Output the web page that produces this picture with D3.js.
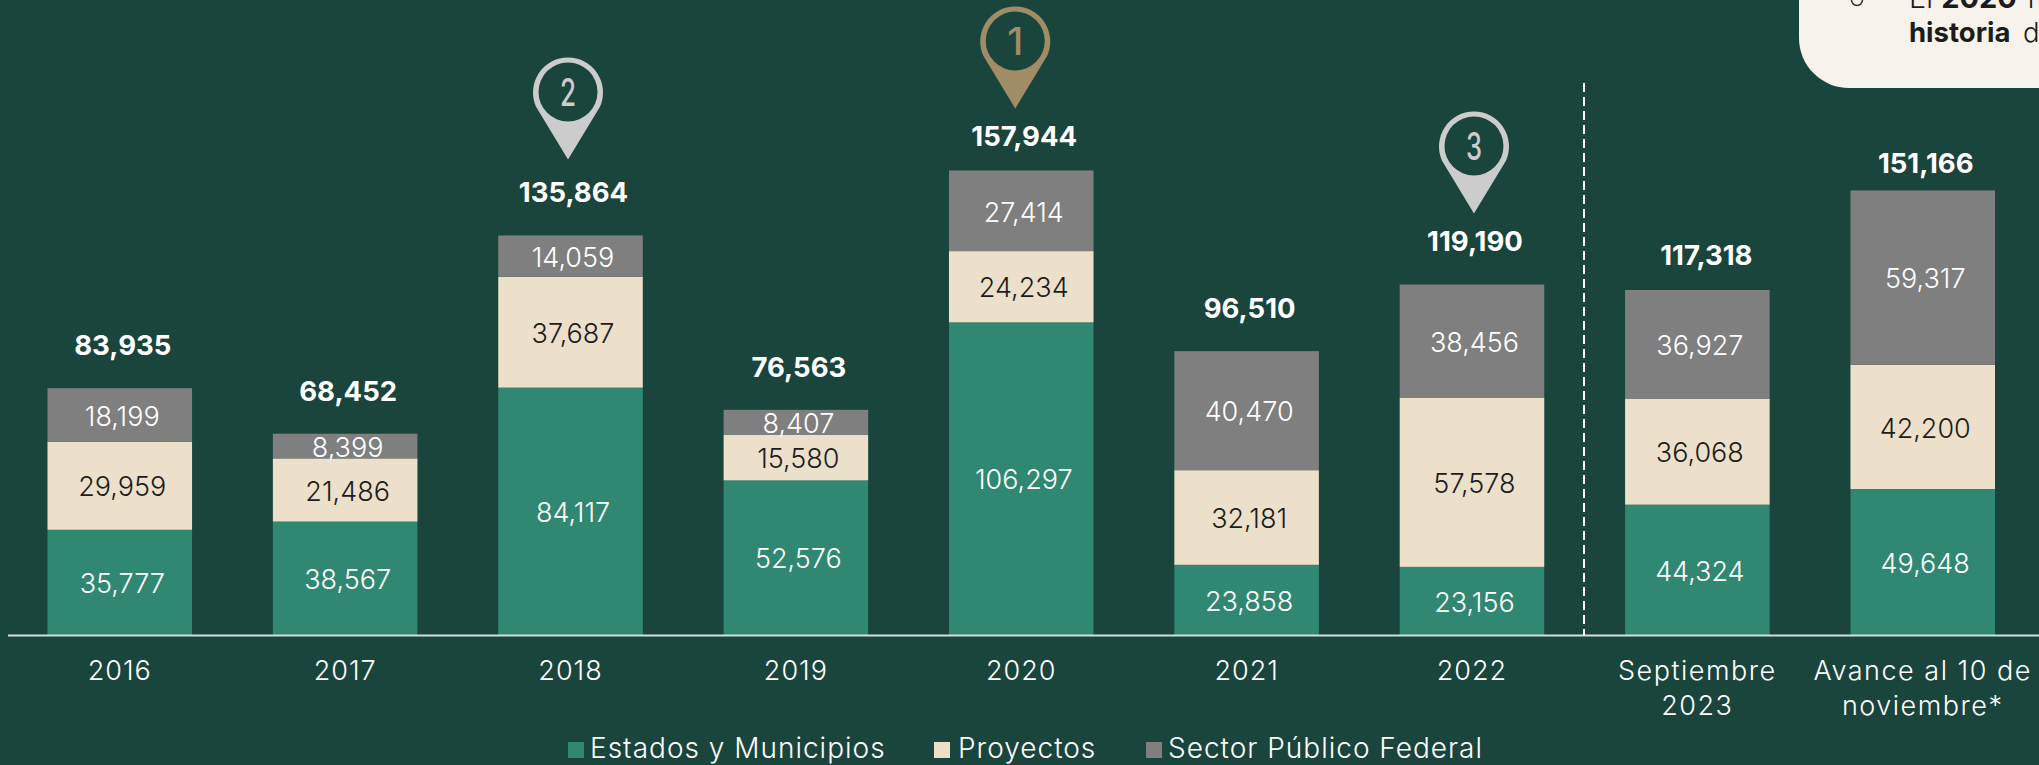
<!DOCTYPE html>
<html lang="es"><head><meta charset="utf-8">
<script src="https://cdn.jsdelivr.net/npm/d3@7"></script>
<style>
html,body{margin:0;padding:0;background:#1a453c;overflow:hidden}
svg{display:block}
text{font-family:Inter,"Open Sans",sans-serif}
</style></head><body><svg id="c" width="2039" height="765"></svg>
<script>
const categories=["2016","2017","2018","2019","2020","2021","2022","Septiembre 2023","Avance al 10 de noviembre*"];
const estados=[35777,38567,84117,52576,106297,23858,23156,44324,49648];
const proyectos=[29959,21486,37687,15580,24234,32181,57578,36068,42200];
const sector=[18199,8399,14059,8407,27414,40470,38456,36927,59317];
const totals=[83935,68452,135864,76563,157944,96510,119190,117318,151166];
const seriesNames=["Estados y Municipios","Proyectos","Sector Público Federal"];
const pinRanks=["","","2","","1","","3","",""];

const C={bg:"#1a453c",green:"#318872",beige:"#ece0ca",gray:"#7f7f7f",card:"#f7f3ec",gold:"#a08c66",silver:"#cccccc"};
const svg=d3.select("#c");
const x=d3.scaleBand().domain(categories).range([47.5,1995]).paddingInner(0.3586).paddingOuter(0);
const y=d3.scaleLinear().domain([0,157944]).range([635,170.5]);
const fmt=d3.format(",");
const fills=[C.green,C.beige,C.gray], txt=["#fff","#1c1c1c","#fff"];

// card
const card=svg.append("g");
card.append("rect").attr("x",1799).attr("y",-100).attr("width",400).attr("height",188).attr("rx",50).attr("fill",C.card);
card.append("circle").attr("cx",1857).attr("cy",0).attr("r",5.5).attr("fill","none").attr("stroke","#333").attr("stroke-width",1.5);
const l1=card.append("text").attr("x",1909).attr("y",8).attr("font-size",29).attr("fill","#1c1c1c").attr("font-weight",300);
l1.append("tspan").text("El ");l1.append("tspan").attr("font-weight",700).text("2020 ");l1.append("tspan").attr("dx",3).text("fue");
const l2=card.append("text").attr("x",1909).attr("y",42).attr("font-size",27.5).attr("fill","#1c1c1c").attr("font-weight",300);
l2.append("tspan").attr("font-weight",700).text("historia ");l2.append("tspan").attr("dx",6).text("de");

// bars
const rows=[estados,proyectos,sector];
const stack=d3.stack().keys([0,1,2]).value((d,k)=>rows[k][d])(d3.range(categories.length));
const g=svg.append("g");
stack.forEach((s,k)=>{
  g.selectAll(null).data(s).join("rect")
   .attr("x",(d,i)=>x(categories[i])).attr("width",x.bandwidth())
   .attr("y",d=>y(d[1])).attr("height",d=>y(d[0])-y(d[1])).attr("fill",fills[k]);
  g.selectAll(null).data(s).join("text")
   .attr("x",(d,i)=>x(categories[i])+x.bandwidth()/2+2.5)
   .attr("y",d=>(y(d[0])+y(d[1]))/2+1).attr("dy","0.36em")
   .attr("text-anchor","middle").attr("font-size",27).attr("font-weight",300).attr("fill",txt[k])
   .text((d,i)=>fmt(rows[k][i]));
});

// baseline + categories
const axis=svg.append("g").attr("transform","translate(0,635)").call(d3.axisBottom(x).tickSize(0).tickPadding(0));
axis.select(".domain").remove();
svg.append("line").attr("x1",8).attr("x2",2039).attr("y1",635.5).attr("y2",635.5).attr("stroke","#d3dedb").attr("stroke-width",2);
const lines={"Septiembre 2023":["Septiembre","2023"],"Avance al 10 de noviembre*":["Avance al 10 de","noviembre*"]};
axis.selectAll(".tick text").each(function(d){
  const t=d3.select(this).text(null).attr("y",0).attr("dy",null).attr("fill","#fff")
    .attr("font-size",27).attr("font-weight",300).attr("font-family",'Inter,"Open Sans",sans-serif')
    .attr("letter-spacing",lines[d]?1.5:1);
  (lines[d]||[d]).forEach((s,i)=>t.append("tspan").attr("x",0).attr("y",45+i*35).text(s));
});

// divider
svg.append("line").attr("x1",1584).attr("x2",1584).attr("y1",83).attr("y2",635)
  .attr("stroke","#fff").attr("stroke-width",2).attr("stroke-dasharray","9 5");

// totals
const gapAbove={"2020":34,"Septiembre 2023":35,"Avance al 10 de noviembre*":27};
const shift={"Septiembre 2023":6};
svg.append("g").selectAll("text").data(totals).join("text")
  .attr("x",(d,i)=>x(categories[i])+x.bandwidth()/2+3+(shift[categories[i]]||0))
  .attr("y",(d,i)=>y(d)-(gapAbove[categories[i]]||43)).attr("dy","0.36em")
  .attr("text-anchor","middle").attr("font-size",27.5).attr("font-weight",700).attr("fill","#fff").text(fmt);

// pins
const pinGap={"1":62,"2":76,"3":71}, pinDx={"1":-6,"2":-2.5,"3":2};
categories.forEach((c,i)=>{
  const r=pinRanks[i]; if(!r) return;
  const tip=y(totals[i])-pinGap[r], col=r==="1"?C.gold:C.silver;
  const cx=x(c)+x.bandwidth()/2+pinDx[r], cy=tip-67, R=35;
  const p=svg.append("g");
  const a=0.42;
  const lx=R*Math.cos(a), ly=R*Math.sin(a);
  p.append("path").attr("fill",col)
   .attr("d",`M${cx-lx},${cy+ly}A${R},${R} 0 1 1 ${cx+lx},${cy+ly}L${cx},${tip}Z`);
  p.append("circle").attr("cx",cx).attr("cy",cy-0.5).attr("r",29.5).attr("fill",C.bg);
  p.append("text").attr("x",cx).attr("y",cy+13.5).attr("text-anchor","middle").attr("font-family","Roboto")
   .attr("font-size",38).attr("font-weight",500).attr("fill",col).attr("textLength",16).attr("lengthAdjust","spacingAndGlyphs").text(r);
});

// legend
const legend=[[568,590],[934,958],[1146,1168]];
seriesNames.forEach((n,i)=>{
  svg.append("rect").attr("x",legend[i][0]).attr("y",742).attr("width",16).attr("height",16).attr("fill",fills[i]);
  svg.append("text").attr("x",legend[i][1]).attr("y",758).attr("font-size",28).attr("font-weight",300).attr("letter-spacing",1).attr("fill","#fff").text(n);
});
</script></body></html>
